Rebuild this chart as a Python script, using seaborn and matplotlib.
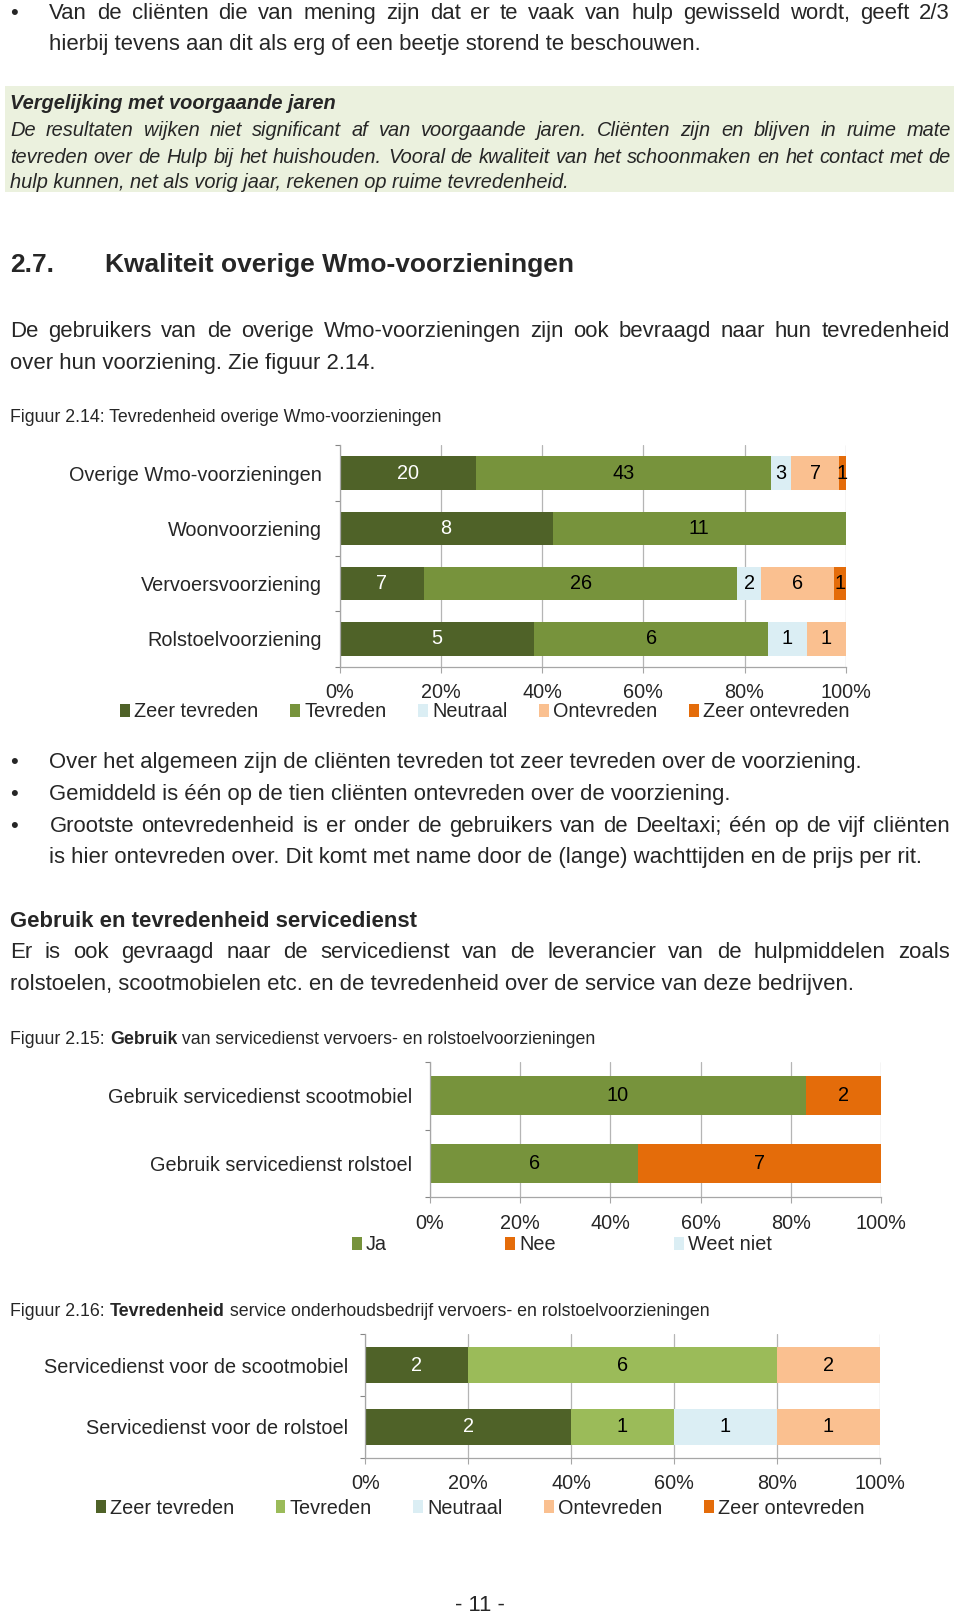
import matplotlib
matplotlib.use("Agg")
import matplotlib.pyplot as plt
from matplotlib.patches import Patch, Rectangle
import seaborn as sns
import pandas as pd

# --- data -------------------------------------------------------------
status_5 = ["Zeer tevreden", "Tevreden", "Neutraal", "Ontevreden", "Zeer ontevreden"]

wmo_cats = ["Overige Wmo-voorzieningen", "Woonvoorziening",
            "Vervoersvoorziening", "Rolstoelvoorziening"]
wmo_zeer_tevreden = [20, 8, 7, 5]
wmo_tevreden = [43, 11, 26, 6]
wmo_neutraal = [3, 0, 2, 1]
wmo_ontevreden = [7, 0, 6, 1]
wmo_zeer_ontevreden = [1, 0, 1, 0]

gebruik_status = ["Ja", "Nee", "Weet niet"]
gebruik_cats = ["Gebruik servicedienst scootmobiel", "Gebruik servicedienst rolstoel"]
gebruik_ja = [10, 6]
gebruik_nee = [2, 7]
gebruik_weet_niet = [0, 0]

service_cats = ["Servicedienst voor de scootmobiel", "Servicedienst voor de rolstoel"]
service_zeer_tevreden = [2, 2]
service_tevreden = [6, 1]
service_neutraal = [0, 1]
service_ontevreden = [2, 1]
service_zeer_ontevreden = [0, 0]

pct_ticks = [0, 20, 40, 60, 80, 100]
pct_labels = ["0%", "20%", "40%", "60%", "80%", "100%"]

# --- style --------------------------------------------------------------
DARK = "#4F6228"
GREEN = "#77933C"
LIGHTGREEN = "#9BBB59"
BLUE = "#DBEEF4"
PEACH = "#FAC090"
ORANGE = "#E46C0A"

sns.set_theme(style="white")
plt.rcParams["font.family"] = ["Liberation Sans", "DejaVu Sans"]

BODY = 15.9
SMALL = 12.8
CHART = 14.3
BOX = 14.4

fig = plt.figure(figsize=(9.6, 16.13), dpi=100)
R = fig.canvas.get_renderer()
FW = fig.bbox.width


def X(x):
    return x / 933


def Y(y):
    return 1 - y / 1568


def base(y, size):
    # centre of the line (reference px) -> baseline
    return Y(y + 0.36 * size * 100 / 72 / 1.029)


def tw(s, **kw):
    t = fig.text(0, 0, s, **kw)
    w = t.get_window_extent(renderer=R).width / FW
    t.remove()
    return w


def line(x0, y, s, x1=None, size=BODY, **kw):
    if x1 is None:
        fig.text(X(x0), base(y, size), s, fontsize=size, va="baseline", **kw)
        return
    words = s.split(" ")
    widths = [tw(w, fontsize=size, **kw) for w in words]
    gap = (X(x1) - X(x0) - sum(widths)) / (len(words) - 1)
    x = X(x0)
    for w, wd in zip(words, widths):
        fig.text(x, base(y, size), w, fontsize=size, va="baseline", **kw)
        x += wd + gap


def runs(x0, y, parts, size=SMALL):
    x = X(x0)
    for s, weight in parts:
        fig.text(x, base(y, size), s, fontsize=size, va="baseline", fontweight=weight)
        x += tw(s, fontsize=size, fontweight=weight)


def bullet(y):
    fig.text(X(14), base(y, BODY), "\u2022", fontsize=BODY, ha="center", va="baseline")


def stacked(rect, cats, names, series, colors, txtcolors, width):
    l, r, t, b = rect
    ax = fig.add_axes([X(l), Y(b), X(r) - X(l), Y(t) - Y(b)])
    rows = []
    for name, vals in zip(names, series):
        for c, v in zip(cats, vals):
            rows.append({"cat": c, "status": name, "n": v})
    df = pd.DataFrame(rows)
    df["tot"] = df.groupby("cat")["n"].transform("sum")
    df["pct"] = df["n"] / df["tot"] * 100
    df["order"] = df["status"].map({s: i for i, s in enumerate(names)})
    df = df.sort_values(["cat", "order"])
    df["cum"] = df.groupby("cat")["pct"].cumsum()
    # draw cumulative bars from the last status backwards so they stack
    for name, col in reversed(list(zip(names, colors))):
        sub = df[df["status"] == name]
        sns.barplot(data=sub, x="cum", y="cat", order=cats, color=col, orient="h",
                    width=width, saturation=1, errorbar=None, linewidth=0, ax=ax)
    for name, tc in zip(names, txtcolors):
        sub = df[df["status"] == name]
        for _, row in sub.iterrows():
            if row["n"] > 0:
                ax.text(row["cum"] - row["pct"] / 2, cats.index(row["cat"]), str(row["n"]),
                        ha="center", va="center", color=tc, fontsize=CHART)
    ax.set_xlim(0, 100)
    ax.set_ylim(len(cats) - 0.5, -0.5)
    ax.set_xlabel("")
    ax.set_ylabel("")
    ax.set_xticks(pct_ticks)
    ax.set_xticklabels(pct_labels)
    ax.set_yticks(range(len(cats)))
    ax.set_yticklabels(cats)
    ax.set_yticks([i - 0.5 for i in range(len(cats) + 1)], minor=True)
    ax.tick_params(axis="x", length=4.3, width=0.8, color="#A6A6A6", pad=7.5,
                   labelsize=CHART, bottom=True)
    ax.tick_params(axis="y", which="major", length=0, pad=12.6, labelsize=CHART)
    ax.tick_params(axis="y", which="minor", length=3.6, width=0.8, color="#868686", left=True)
    ax.grid(axis="x", color="#B5B5B5", lw=0.9)
    ax.grid(axis="y", visible=False)
    ax.set_axisbelow(True)
    for s in ["top", "right"]:
        ax.spines[s].set_visible(False)
    for s in ["left", "bottom"]:
        ax.spines[s].set_color("#A6A6A6")
        ax.spines[s].set_linewidth(0.9)
    return ax


def legend(x, y, names, colors, spacing):
    handles = [Patch(facecolor=c, edgecolor="none", label=n) for n, c in zip(names, colors)]
    fig.legend(handles=handles, loc="center left", bbox_to_anchor=(X(x), Y(y)),
               ncol=len(names), frameon=False, borderpad=0, borderaxespad=0,
               handlelength=0.5, handleheight=0.65, handletextpad=0.2,
               columnspacing=spacing, fontsize=CHART)


# --- page text ------------------------------------------------------------
bullet(11)
line(48, 11, "Van de cliënten die van mening zijn dat er te vaak van hulp gewisseld wordt, geeft 2/3", 923)
line(48, 41, "hierbij tevens aan dit als erg of een beetje storend te beschouwen.")

fig.add_artist(Rectangle((X(5), Y(187)), X(927) - X(5), Y(84) - Y(187),
                         transform=fig.transFigure, facecolor="#EBF1DE", edgecolor="none", zorder=0))
line(10, 99, "Vergelijking met voorgaande jaren", size=BOX, fontweight="bold", fontstyle="italic")
line(10, 125, "De resultaten wijken niet significant af van voorgaande jaren. Cliënten zijn en blijven in ruime mate",
     924, size=BOX, fontstyle="italic")
line(10, 151, "tevreden over de Hulp bij het huishouden. Vooral de kwaliteit van het schoonmaken en het contact met de",
     924, size=BOX, fontstyle="italic")
line(10, 176, "hulp kunnen, net als vorig jaar, rekenen op ruime tevredenheid.", size=BOX, fontstyle="italic")

line(10, 255, "2.7.", size=19, fontweight="bold")
line(102, 255, "Kwaliteit overige Wmo-voorzieningen", size=19, fontweight="bold")

line(10, 320, "De gebruikers van de overige Wmo-voorzieningen zijn ook bevraagd naar hun tevredenheid", 923)
line(10, 351, "over hun voorziening. Zie figuur 2.14.")

runs(10, 404, [("Figuur 2.14: Tevredenheid overige Wmo-voorzieningen", "normal")])

# --- figuur 2.14 ------------------------------------------------------------
stacked((330, 822, 433, 648), wmo_cats, status_5,
        [wmo_zeer_tevreden, wmo_tevreden, wmo_neutraal, wmo_ontevreden, wmo_zeer_ontevreden],
        [DARK, GREEN, BLUE, PEACH, ORANGE],
        ["white", "black", "black", "black", "black"], 0.6)
legend(117, 692, status_5, [DARK, GREEN, BLUE, PEACH, ORANGE], 1.6)

bullet(739)
line(48, 739, "Over het algemeen zijn de cliënten tevreden tot zeer tevreden over de voorziening.")
bullet(770)
line(48, 770, "Gemiddeld is één op de tien cliënten ontevreden over de voorziening.")
bullet(801)
line(48, 801, "Grootste ontevredenheid is er onder de gebruikers van de Deeltaxi; één op de vijf cliënten", 923)
line(48, 831, "is hier ontevreden over. Dit komt met name door de (lange) wachttijden en de prijs per rit.")

line(10, 893, "Gebruik en tevredenheid servicedienst", fontweight="bold")
line(10, 924, "Er is ook gevraagd naar de servicedienst van de leverancier van de hulpmiddelen zoals", 923)
line(10, 955, "rolstoelen, scootmobielen etc. en de tevredenheid over de service van deze bedrijven.")

runs(10, 1009, [("Figuur 2.15: ", "normal"), ("Gebruik", "bold"),
                (" van servicedienst vervoers- en rolstoelvoorzieningen", "normal")])

# --- figuur 2.15 ------------------------------------------------------------
stacked((418, 856, 1032, 1164), gebruik_cats, gebruik_status,
        [gebruik_ja, gebruik_nee, gebruik_weet_niet],
        [GREEN, ORANGE, BLUE], ["black", "black", "black"], 0.58)
legend(342, 1210, gebruik_status, [GREEN, ORANGE, BLUE], 5.95)

runs(10, 1273, [("Figuur 2.16: ", "normal"), ("Tevredenheid", "bold"),
                (" service onderhoudsbedrijf vervoers- en rolstoelvoorzieningen", "normal")])

# --- figuur 2.16 ------------------------------------------------------------
stacked((355, 855, 1297, 1417), service_cats, status_5,
        [service_zeer_tevreden, service_tevreden, service_neutraal,
         service_ontevreden, service_zeer_ontevreden],
        [DARK, LIGHTGREEN, BLUE, PEACH, ORANGE],
        ["white", "black", "black", "black", "black"], 0.58)
legend(93, 1466, status_5, [DARK, LIGHTGREEN, BLUE, PEACH, ORANGE], 2.1)

fig.text(X(466), base(1558, BODY), "- 11 -", fontsize=BODY, ha="center", va="baseline")

fig.savefig("out.png", dpi=100, facecolor="white")
